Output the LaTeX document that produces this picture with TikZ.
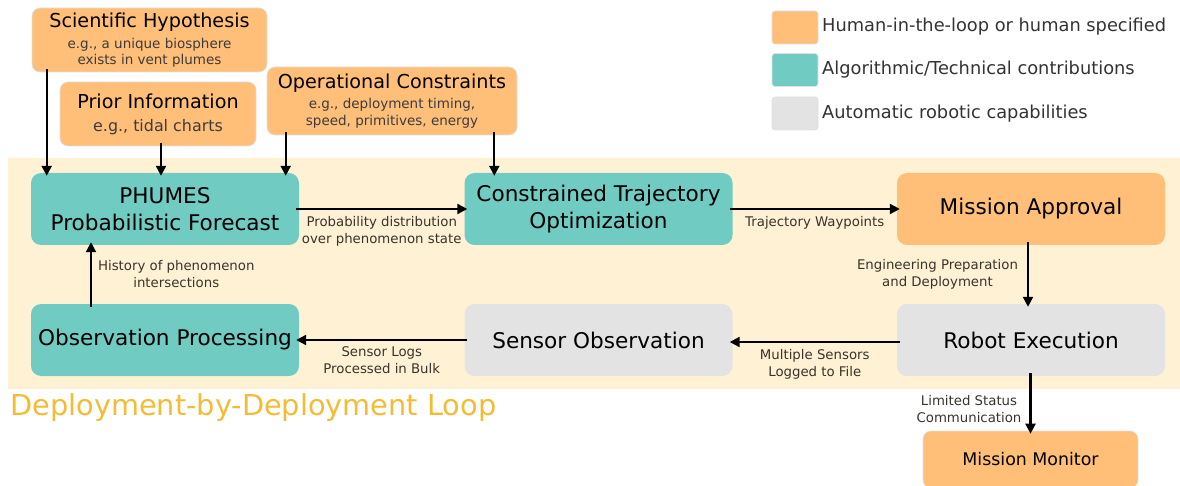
\documentclass[tikz,border=0pt]{standalone}
\usepackage{fontspec}
\setmainfont{DejaVu Sans}
\usetikzlibrary{arrows.meta,positioning}

\definecolor{humanfill}{HTML}{FFBF79}
\definecolor{algofill}{HTML}{70CBC3}
\definecolor{robotfill}{HTML}{E3E3E3}
\definecolor{loopband}{HTML}{FFF2D4}
\definecolor{looptext}{HTML}{F3BC34}
\definecolor{subtext}{HTML}{3C3C3C}
\definecolor{edgetext}{HTML}{38342C}
\definecolor{legendtext}{HTML}{333333}

\newcommand\cardtitle{\fontsize{19.2}{23}\selectfont}

\begin{document}
\begin{tikzpicture}[x=1pt,y=-1pt,
  card/.style={rounded corners=10pt, inner sep=0pt, align=center, text=black},
  stage/.style={card, minimum width=268pt, minimum height=72pt,
    font=\fontsize{21.6}{27}\selectfont},
  human/.style={fill=humanfill},
  algo/.style={fill=algofill},
  robot/.style={fill=robotfill},
  inputcard/.style={card, rounded corners=8pt, fill=humanfill,
    draw=black!12, line width=0.6pt},
  flow/.style={draw=black, line width=2.2pt, -{Triangle[length=10pt,width=10pt]},
    shorten >=-3pt, shorten <=-3pt},
  elabel/.style={font=\fontsize{13.3}{17}\selectfont, text=edgetext,
    align=center, inner sep=1pt},
  swatch/.style={rounded corners=3pt, minimum width=46pt, minimum height=33pt,
    draw=black!12, line width=0.6pt, inner sep=0pt},
  legendlabel/.style={anchor=west, inner sep=0pt, text=legendtext,
    font=\fontsize{17.8}{20}\selectfont}
]
\useasboundingbox (0,0) rectangle (1180,486);

% deployment loop band and its caption
\fill[loopband] (8,158) rectangle (1180,389);
\node[anchor=base west, inner sep=0pt, text=looptext,
      font=\fontsize{28.8}{34}\selectfont] (looptitle) at (10,415)
      {Deployment-by-Deployment Loop};

% human-specified inputs
\node[inputcard, minimum width=235pt, minimum height=64pt,
      font=\fontsize{13.5}{16}\selectfont] (sci) at (149.5,40)
  {{\cardtitle Scientific Hypothesis}\\[5pt]
   \color{subtext}e.g., a unique biosphere\\
   \color{subtext}exists in vent plumes};
\node[inputcard, minimum width=196pt, minimum height=64pt,
      font=\fontsize{15.9}{19}\selectfont] (prior) at (158,114)
  {{\cardtitle Prior Information}\\[4pt]
   \color{subtext}e.g., tidal charts};
\node[inputcard, minimum width=250pt, minimum height=68pt,
      font=\fontsize{13.5}{17}\selectfont] (ops) at (392,101)
  {{\cardtitle Operational Constraints}\\[3pt]
   \color{subtext}e.g., deployment timing,\\
   \color{subtext}speed, primitives, energy};

% loop stages
\node[stage, algo]  (phumes) at (165,209)    {PHUMES\\Probabilistic Forecast};
\node[stage, algo]  (traj)   at (598.5,209)  {Constrained Trajectory\\Optimization};
\node[stage, human] (appr)   at (1031,209)   {Mission Approval};
\node[stage, algo]  (obs)    at (165,340)    {Observation Processing};
\node[stage, robot] (sens)   at (598.5,340)  {Sensor Observation};
\node[stage, robot] (exec)   at (1031,340)   {Robot Execution};
\node[card, human, rounded corners=8pt, draw=black!12, line width=0.6pt,
      minimum width=215pt, minimum height=57pt,
      font=\fontsize{17.4}{21}\selectfont] (mon) at (1030.5,459.5) {Mission Monitor};

% legend
\node[swatch, fill=humanfill] (keyhuman) at (795,27.5) {};
\node[legendlabel] (keyhumantext) at (822,27) {Human-in-the-loop or human specified};
\node[swatch, fill=algofill] (keyalgo) at (795,70) {};
\node[legendlabel] (keyalgotext) at (822,70) {Algorithmic/Technical contributions};
\node[swatch, fill=robotfill] (keyrobot) at (795,113.5) {};
\node[legendlabel] (keyrobottext) at (822,114) {Automatic robotic capabilities};

% inputs into the loop
\coordinate (sciout) at ([xshift=15pt]sci.south west);
\draw[flow] (sciout) -- (sciout |- phumes.north);
\coordinate (priorout) at ([xshift=3pt]prior.south);
\draw[flow] (priorout) -- (priorout |- phumes.north);
\coordinate (opsleft) at ([xshift=19pt]ops.south west);
\draw[flow] (opsleft) -- (opsleft |- phumes.north);
\coordinate (opsright) at ([xshift=-23pt]ops.south east);
\draw[flow] (opsright) -- (opsright |- traj.north);

% loop connections
\draw[flow] (phumes) -- (traj)
  node[midway, below=5pt, elabel] {Probability distribution\\over phenomenon state};
\draw[flow] (traj) -- (appr)
  node[midway, below=5pt, elabel] {Trajectory Waypoints};
\coordinate (approut) at ([xshift=-3pt]appr.south);
\draw[flow] (approut) -- (approut |- exec.north)
  node[midway, left=8pt, elabel] {Engineering Preparation\\and Deployment};
\draw[flow] ([yshift=-2pt]exec.west) -- ([yshift=-2pt]sens.east)
  node[midway, below=5pt, elabel] {Multiple Sensors\\Logged to File};
\draw[flow] (sens) -- (obs)
  node[midway, below=5pt, elabel] {Sensor Logs\\Processed in Bulk};
\coordinate (obsout) at ([xshift=-74pt]obs.north);
\draw[flow] (obsout) -- (obsout |- phumes.south)
  node[midway, right=5pt, elabel] {History of phenomenon\\intersections};
\draw[flow] (exec.south -| mon.north) -- (mon.north)
  node[pos=0.6, left=7pt, elabel] {Limited Status\\Communication};
\end{tikzpicture}
\end{document}
